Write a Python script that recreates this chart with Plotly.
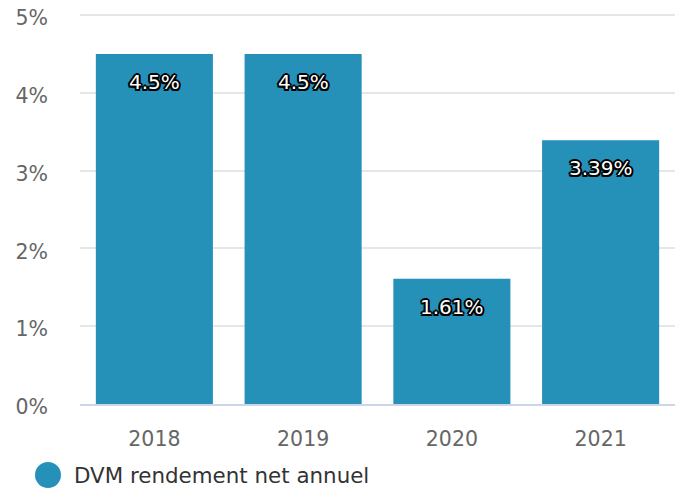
import plotly.graph_objects as go

years = ["2018", "2019", "2020", "2021"]
values = [4.5, 4.5, 1.61, 3.39]
labels = ["4.5%", "4.5%", "1.61%", "3.39%"]
series_name = "DVM rendement net annuel"
y_ticks = [0, 1, 2, 3, 4, 5]

BAR = "#2590b8"
FONT = "DejaVu Sans"
_offs = [(-1.5, -1.5), (1.5, -1.5), (-1.5, 1.5), (1.5, 1.5), (0, 2), (0, -2), (2, 0), (-2, 0),
         (1, 0), (-1, 0), (0, 1), (0, -1)]
OUTLINE = ", ".join(f"{dx}px {dy}px 0 #000" for dx, dy in _offs)

fig = go.Figure()
fig.add_trace(go.Bar(x=years, y=values, marker=dict(color=BAR, line=dict(width=0)),
                     name=series_name, showlegend=False, hoverinfo="skip"))

W, H = 679, 492
ml, mr, mt, mb = 80, 4, 12, 88
pw, ph = W - ml - mr, H - mt - mb

annotations = []
for i, (v, t) in enumerate(zip(values, labels)):
    annotations.append(dict(x=i, y=v, xref="x", yref="y", text=t, showarrow=False,
                            yshift=-28, yanchor="middle",
                            font=dict(family=FONT, size=20, color="#ffffff", shadow=OUTLINE)))

# legend item
legend_cx, legend_cy = 48, 475
legend_tx = 72
annotations.append(dict(x=(legend_tx - ml) / pw, y=(H - mb - legend_cy) / ph, xref="paper", yref="paper",
                        text=series_name, showarrow=False, xanchor="left", yanchor="middle",
                        font=dict(family=FONT, size=21.4, color="#333333")))
shapes = [dict(type="circle", xref="paper", yref="paper", xsizemode="pixel", ysizemode="pixel",
               xanchor=(legend_cx - ml) / pw, yanchor=(H - mb - legend_cy) / ph,
               x0=-13, x1=13, y0=-13, y1=13, fillcolor=BAR, line=dict(width=0))]

fig.update_layout(
    width=W, height=H,
    margin=dict(l=ml, r=mr, t=mt, b=mb, autoexpand=False),
    paper_bgcolor="white", plot_bgcolor="white",
    bargap=0.213,
    showlegend=False,
    annotations=annotations,
    shapes=shapes,
    font=dict(family=FONT),
)
fig.update_xaxes(type="category", automargin=False, showgrid=False, showline=True,
                 linecolor="#ccd6eb", linewidth=2,
                 tickfont=dict(family=FONT, size=20.5, color="#666666"),
                 ticks="", ticklabelstandoff=15)
fig.update_yaxes(range=[0, 5.04], automargin=False, tickvals=y_ticks, ticktext=[f"{t}%" for t in y_ticks],
                 showgrid=True, gridcolor="#e6e6e6", gridwidth=2, zeroline=False,
                 showline=False, ticks="", ticklabeloverflow="allow", ticklabelshift=3,
                 tickfont=dict(family=FONT, size=20.5, color="#666666"),
                 ticklabelstandoff=31)

fig.write_html("out.html", config={"displayModeBar": False},
               post_script="document.body.style.margin='0';document.body.style.overflow='hidden';")
